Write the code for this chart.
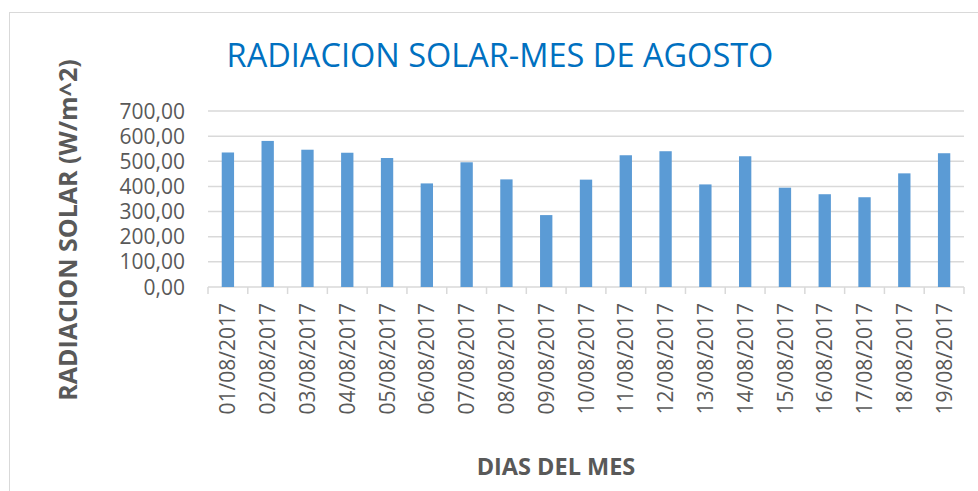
<!DOCTYPE html>
<html>
<head>
<meta charset="utf-8">
<script src="https://cdn.jsdelivr.net/npm/d3@7"></script>
<style>
  body { margin: 0; background: #fff; }
  text { font-family: "Open Sans", sans-serif; }
</style>
</head>
<body>
<script>
const width = 978;
const height = 491;

const days = [
  "01/08/2017", "02/08/2017", "03/08/2017", "04/08/2017", "05/08/2017",
  "06/08/2017", "07/08/2017", "08/08/2017", "09/08/2017", "10/08/2017",
  "11/08/2017", "12/08/2017", "13/08/2017", "14/08/2017", "15/08/2017",
  "16/08/2017", "17/08/2017", "18/08/2017", "19/08/2017"
];
const radiation = [
  535, 581, 546, 534, 513, 412, 496, 428, 286, 427,
  524, 540, 408, 520, 395, 369, 357, 452, 532
];
const yTicks = [0, 100, 200, 300, 400, 500, 600, 700];

const titleText = "RADIACION SOLAR-MES DE AGOSTO";
const yLabel = "RADIACION SOLAR (W/m^2)";
const xLabel = "DIAS DEL MES";

const plot = { left: 208, right: 964, top: 111, bottom: 287 };

const svg = d3
  .select("body")
  .append("svg")
  .attr("width", width)
  .attr("height", height);

// chart frame
svg
  .append("rect")
  .attr("x", 9.5)
  .attr("y", 12.5)
  .attr("width", width)
  .attr("height", height)
  .attr("fill", "#fff")
  .attr("stroke", "#d9d9d9");

const x = d3
  .scaleBand()
  .domain(days)
  .range([plot.left, plot.right])
  .paddingInner(0.69)
  .paddingOuter(0.345);

const y = d3
  .scaleLinear()
  .domain([0, 700])
  .range([plot.bottom, plot.top]);

// gridlines
svg
  .append("g")
  .selectAll("line")
  .data(yTicks)
  .join("line")
  .attr("x1", plot.left)
  .attr("x2", plot.right)
  .attr("y1", d => y(d))
  .attr("y2", d => y(d))
  .attr("stroke", "#d9d9d9")
  .attr("stroke-width", 1.5);

// y tick labels
svg
  .append("g")
  .selectAll("text")
  .data(yTicks)
  .join("text")
  .attr("x", 185)
  .attr("y", d => y(d))
  .attr("dy", "0.36em")
  .attr("text-anchor", "end")
  .attr("font-size", 21)
  .attr("fill", "#595959")
  .text(d => d3.format(".2f")(d).replace(".", ","));

// bars
svg
  .append("g")
  .selectAll("rect")
  .data(radiation)
  .join("rect")
  .attr("x", (d, i) => x(days[i]))
  .attr("y", d => y(d))
  .attr("width", x.bandwidth())
  .attr("height", d => y(0) - y(d))
  .attr("fill", "#5b9bd5");

// category boundary ticks
const step = x.step();
const edges = d3.range(days.length + 1).map(i => plot.left + i * step);
svg
  .append("g")
  .selectAll("line")
  .data(edges)
  .join("line")
  .attr("x1", d => d)
  .attr("x2", d => d)
  .attr("y1", plot.bottom)
  .attr("y2", plot.bottom + 7)
  .attr("stroke", "#d9d9d9")
  .attr("stroke-width", 1.5);

// x tick labels
svg
  .append("g")
  .selectAll("text")
  .data(days)
  .join("text")
  .attr("transform", d => `translate(${x(d) + x.bandwidth() / 2},303) rotate(-90)`)
  .attr("dy", "0.36em")
  .attr("text-anchor", "end")
  .attr("font-size", 21)
  .attr("fill", "#595959")
  .text(d => d);

// title
svg
  .append("text")
  .attr("x", 500)
  .attr("y", 67)
  .attr("text-anchor", "middle")
  .attr("font-size", 32.5)
  .attr("fill", "#0070c0")
  .text(titleText);

// axis titles
svg
  .append("text")
  .attr("transform", "translate(77,230) rotate(-90)")
  .attr("text-anchor", "middle")
  .attr("font-size", 25)
  .attr("font-weight", "bold")
  .attr("fill", "#595959")
  .text(yLabel);

svg
  .append("text")
  .attr("x", 556)
  .attr("y", 475)
  .attr("text-anchor", "middle")
  .attr("font-size", 23.5)
  .attr("font-weight", "bold")
  .attr("fill", "#595959")
  .text(xLabel);
</script>
</body>
</html>
